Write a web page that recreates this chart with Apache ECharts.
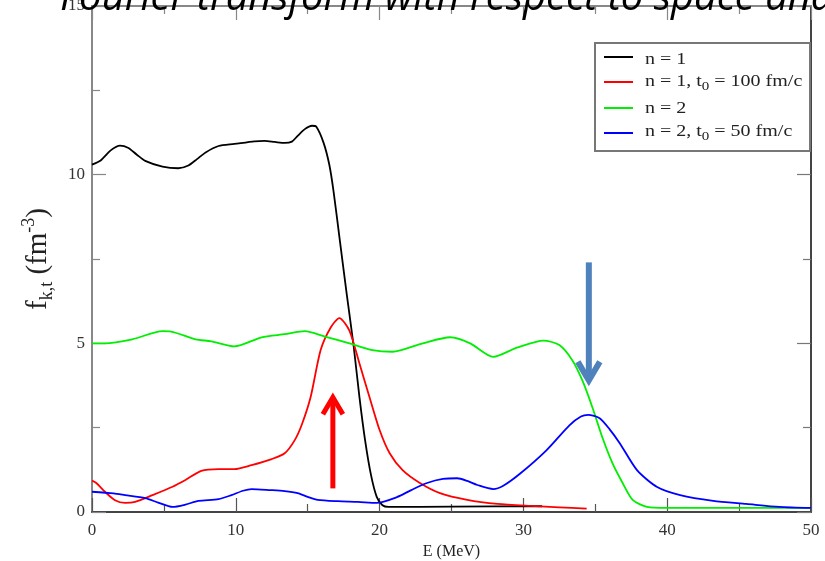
<!DOCTYPE html>
<html>
<head>
<meta charset="utf-8">
<script src="https://cdn.jsdelivr.net/npm/echarts@6/dist/echarts.min.js"></script>
<style>
  html, body { margin: 0; padding: 0; background: #fff; }
  #chart { width: 825px; height: 561px; }
</style>
</head>
<body>
<div id="chart"></div>
<script>
// Energy distributions f_{k,t}(E) for the four runs
const seriesNames = [
  'n = 1',
  'n = 1, t0 = 100 fm/c',
  'n = 2',
  'n = 2, t0 = 50 fm/c'
];
const legendLabels = [
  '{t|n = 1}',
  '{t|n = 1, t}{s|0}{t| = 100 fm/c}',
  '{t|n = 2}',
  '{t|n = 2, t}{s|0}{t| = 50 fm/c}'
];
const seriesColors = ['#000000', '#ff0000', '#00ee00', '#0000ff'];

const n1 = [[0,10.3],[0.6,10.42],[1.3,10.72],[1.95,10.86],[2.5,10.8],[3.1,10.6],[3.7,10.41],[4.9,10.24],[6.0,10.19],[6.7,10.27],[7.3,10.46],[7.9,10.66],[8.8,10.85],[9.9,10.91],[11.3,10.99],[12.0,11.0],[12.7,10.97],[13.4,10.94],[13.9,10.98],[14.3,11.15],[14.8,11.35],[15.3,11.45],[15.6,11.42],[16.1,10.95],[16.5,10.3],[16.8,9.5],[17.25,8.0],[17.7,6.5],[18.2,4.9],[18.6,3.4],[19.0,2.1],[19.4,1.1],[19.8,0.45],[20.2,0.2],[20.6,0.15],[25,0.16],[31.3,0.17]];

const n1t100 = [[0,0.93],[0.3,0.86],[0.9,0.6],[1.6,0.35],[2.3,0.27],[3.0,0.3],[4.2,0.5],[5.6,0.75],[6.5,0.95],[7.6,1.22],[8.8,1.27],[9.9,1.27],[11.1,1.39],[12.5,1.57],[13.4,1.74],[14.1,2.13],[14.6,2.6],[15.2,3.4],[15.9,4.8],[16.6,5.47],[17.2,5.75],[17.9,5.38],[18.6,4.4],[19.3,3.4],[20.0,2.43],[20.7,1.74],[21.6,1.24],[22.8,0.86],[24.2,0.56],[26.1,0.36],[28.2,0.24],[30.5,0.18],[32.5,0.14],[34.4,0.1]];

const n2 = [[0,5.0],[0.9,5.0],[2.8,5.12],[4.9,5.36],[5.5,5.35],[7.2,5.12],[8.3,5.06],[9.9,4.91],[11.8,5.18],[13.4,5.27],[14.8,5.36],[16.2,5.2],[17.9,5.0],[19.5,4.8],[20.9,4.75],[23.0,5.0],[24.9,5.18],[26.3,5.0],[27.9,4.6],[29.6,4.88],[31.4,5.08],[32.5,4.95],[33.4,4.5],[34.1,3.9],[34.8,3.1],[35.5,2.2],[36.2,1.44],[36.9,0.86],[37.6,0.36],[38.6,0.15],[40,0.12],[45,0.12],[50,0.12]];

const n2t50 = [[0,0.6],[1.5,0.55],[2.3,0.5],[3.7,0.41],[4.6,0.28],[5.6,0.15],[6.5,0.22],[7.4,0.33],[8.8,0.38],[9.7,0.5],[10.5,0.63],[11.1,0.68],[12.4,0.65],[13.4,0.62],[14.3,0.56],[15.0,0.45],[15.7,0.36],[17.1,0.32],[18.5,0.3],[19.8,0.27],[21.2,0.44],[22.2,0.65],[23.3,0.86],[24.4,0.98],[25.4,1.0],[26.1,0.92],[26.8,0.8],[27.9,0.68],[28.6,0.78],[29.8,1.15],[31.6,1.83],[33.2,2.57],[34.0,2.83],[34.5,2.88],[35.3,2.78],[36.0,2.45],[36.7,2.04],[37.9,1.24],[39.3,0.74],[40.9,0.5],[43.2,0.33],[45.5,0.24],[47.8,0.15],[50,0.12]];

const seriesData = [n1, n1t100, n2, n2t50];

// arrows in data coordinates: [x, yFrom, yTo]
const redArrow = [16.75, 0.7, 3.4];
const blueArrow = [34.55, 7.4, 3.9];

const titleText = 'Fourier transform with respect to space and time';
const xTicks = [0, 10, 20, 30, 40, 50];
const yTicks = [0, 5, 10, 15];

const serif = 'Liberation Serif';
const chart = echarts.init(document.getElementById('chart'), null, { renderer: 'canvas' });

const frameLine = (color, width) => ({
  show: true, onZero: false,
  lineStyle: { color: color, width: width }
});
const ticks = (color) => ({
  axisTick: { inside: true, length: 14, lineStyle: { color: color, width: 1.2 } },
  minorTick: { show: true, splitNumber: 2, length: 8, lineStyle: { color: color, width: 1.2 } }
});

chart.setOption({
  animation: false,
  backgroundColor: '#ffffff',
  grid: { left: 92, right: 14, top: 6, bottom: 49, containLabel: false, outerBoundsMode: 'none' },
  xAxis: [Object.assign({
    type: 'value', position: 'bottom', min: xTicks[0], max: xTicks[xTicks.length - 1], interval: 10,
    name: 'E (MeV)', nameLocation: 'middle', nameGap: 31,
    nameTextStyle: { fontFamily: serif, fontSize: 16, color: '#222' },
    axisLine: frameLine('#444', 2),
    axisLabel: { fontFamily: serif, fontSize: 17, color: '#333', margin: 10 },
    splitLine: { show: false }
  }, ticks('#555')), Object.assign({
    type: 'value', position: 'top', min: 0, max: 50, interval: 10,
    axisLine: frameLine('#888', 2),
    axisLabel: { show: false },
    splitLine: { show: false }
  }, ticks('#888'))],
  yAxis: [Object.assign({
    type: 'value', position: 'left', min: yTicks[0], max: yTicks[yTicks.length - 1], interval: 5,
    name: '{f|f}{s|k,t}{f| (fm}{p|-3}{f|)}',
    nameLocation: 'middle', nameGap: 36, nameRotate: 90,
    nameTextStyle: {
      rich: {
        f: { fontFamily: serif, fontSize: 29, color: '#222', lineHeight: 36, verticalAlign: 'middle' },
        s: { fontFamily: serif, fontSize: 18, color: '#222', lineHeight: 36, verticalAlign: 'bottom' },
        p: { fontFamily: serif, fontSize: 18, color: '#222', lineHeight: 36, verticalAlign: 'top' }
      }
    },
    axisLine: frameLine('#888', 2),
    axisLabel: { fontFamily: serif, fontSize: 17, color: '#333', margin: 7 },
    splitLine: { show: false }
  }, ticks('#888')), Object.assign({
    type: 'value', position: 'right', min: 0, max: 15, interval: 5,
    axisLine: frameLine('#444', 2),
    axisLabel: { show: false },
    splitLine: { show: false }
  }, ticks('#777'))],
  series: seriesData.map((d, i) => ({
    name: seriesNames[i],
    type: 'line',
    xAxisIndex: 0, yAxisIndex: 0,
    data: d,
    smooth: 0.25,
    symbol: 'none',
    lineStyle: { color: seriesColors[i], width: 1.8 },
    z: 3 + i
  }))
});

// Legend box, arrows and heading are laid out once the scales exist
function arrowShape(spec) {
  const a = chart.convertToPixel({ gridIndex: 0 }, [spec[0], spec[1]]);
  const b = chart.convertToPixel({ gridIndex: 0 }, [spec[0], spec[2]]);
  return { x: a[0], y0: a[1], y1: b[1] };
}

function arrowGraphic(spec, color, width, head) {
  const p = arrowShape(spec);
  const dir = p.y1 < p.y0 ? 1 : -1; // 1 when pointing up
  return {
    type: 'group', z: 50,
    children: [
      { type: 'line', shape: { x1: p.x, y1: p.y0, x2: p.x, y2: p.y1 + dir * 2 },
        style: { stroke: color, lineWidth: width } },
      { type: 'polyline',
        shape: { points: [[p.x - head, p.y1 + dir * head * 1.7], [p.x, p.y1], [p.x + head, p.y1 + dir * head * 1.7]] },
        style: { stroke: color, lineWidth: width, fill: null, lineJoin: 'miter' } }
    ]
  };
}

const legendX = 595, legendY = 43, legendW = 215, legendH = 108;
const legendLineY = [57, 82, 108, 133];
const legendTextY = [60, 82, 109, 132];
const legendItems = [];
legendItems.push({
  type: 'rect', shape: { x: legendX, y: legendY, width: legendW, height: legendH },
  style: { fill: '#fff', stroke: '#777', lineWidth: 2 }, z: 60
});
seriesNames.forEach((name, i) => {
  legendItems.push({
    type: 'line', shape: { x1: 604, y1: legendLineY[i], x2: 633, y2: legendLineY[i] },
    style: { stroke: seriesColors[i], lineWidth: 2 }, z: 61
  });
  legendItems.push({
    type: 'text', x: 645, y: legendTextY[i], scaleX: 1.25, z: 61,
    style: {
      text: legendLabels[i], verticalAlign: 'middle', align: 'left',
      rich: {
        t: { fontFamily: serif, fontSize: 16, fill: '#222', lineHeight: 22, verticalAlign: 'middle' },
        s: { fontFamily: serif, fontSize: 12, fill: '#222', lineHeight: 22, verticalAlign: 'bottom' }
      }
    }
  });
});

chart.setOption({
  graphic: [
    arrowGraphic(redArrow, '#ff0000', 5, 10),
    arrowGraphic(blueArrow, '#4f81bd', 6, 11),
    { type: 'group', children: legendItems },
    {
      type: 'text', x: 60, y: 19, z: 100,
      style: {
        text: titleText, fontFamily: 'Open Sans', fontStyle: 'italic', fontSize: 40,
        fill: '#000', verticalAlign: 'bottom', align: 'left'
      }
    }
  ]
});
</script>
</body>
</html>
